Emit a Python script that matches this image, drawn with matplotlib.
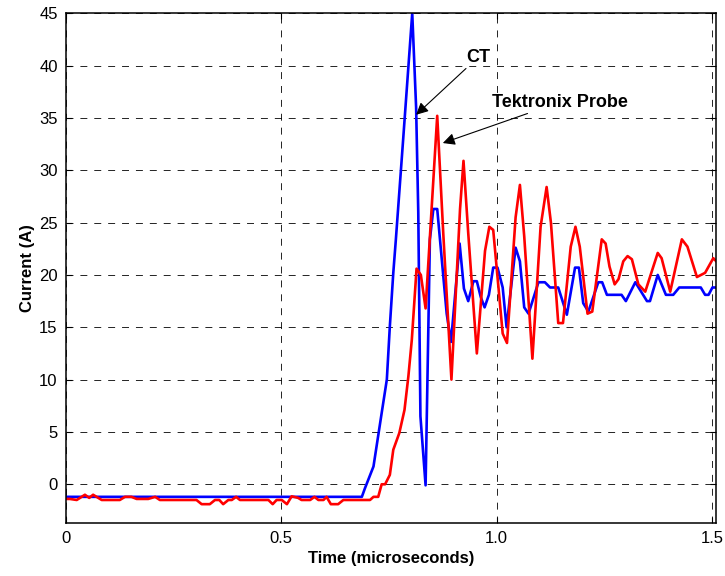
import matplotlib
matplotlib.use("Agg")
import matplotlib.pyplot as plt

plt.rcParams["font.family"] = ["Liberation Sans", "DejaVu Sans"]
plt.rcParams["lines.scale_dashes"] = False

# CT (blue) trace, time in microseconds, current in A
ct_t = [0.0, 0.687, 0.694, 0.714, 0.733, 0.745, 0.752, 0.760, 0.766, 0.783,
        0.804, 0.813, 0.818, 0.823, 0.835, 0.845, 0.853, 0.862, 0.884, 0.894,
        0.914, 0.924, 0.934, 0.946, 0.954, 0.963, 0.972, 0.982, 0.992, 1.002,
        1.014, 1.023, 1.044, 1.054, 1.064, 1.074, 1.097, 1.112, 1.124, 1.143,
        1.163, 1.182, 1.191, 1.201, 1.213, 1.236, 1.245, 1.256, 1.290, 1.300,
        1.322, 1.349, 1.356, 1.374, 1.393, 1.410, 1.424, 1.474, 1.484, 1.492,
        1.501, 1.51]
ct_i = [-1.2, -1.2, -0.4, 1.7, 6.8, 10.0, 15.1, 20.2, 23.4, 33.0,
        45.0, 36.0, 26.0, 6.5, -0.1, 23.4, 26.3, 26.3, 16.3, 13.6,
        23.0, 18.7, 17.5, 19.4, 19.4, 17.9, 16.9, 18.1, 20.7, 20.7,
        18.8, 15.0, 22.6, 21.3, 16.9, 16.3, 19.3, 19.3, 18.8, 18.8,
        16.2, 20.7, 20.7, 17.3, 16.5, 19.3, 19.3, 18.1, 18.1, 17.5,
        19.3, 17.5, 17.5, 20.0, 18.1, 18.1, 18.8, 18.8, 18.1, 18.1,
        18.8, 18.8]

# Tektronix probe (red) trace
tek_t = [0.0, 0.009, 0.025, 0.044, 0.054, 0.063, 0.083, 0.125, 0.137, 0.152,
         0.164, 0.191, 0.207, 0.218, 0.303, 0.315, 0.334, 0.346, 0.356, 0.365,
         0.377, 0.385, 0.395, 0.404, 0.470, 0.480, 0.489, 0.501, 0.513, 0.524,
         0.539, 0.547, 0.567, 0.577, 0.586, 0.598, 0.605, 0.615, 0.632, 0.644,
         0.706, 0.714, 0.725, 0.733, 0.741, 0.752, 0.760, 0.774, 0.786, 0.795,
         0.803, 0.814, 0.824, 0.835, 0.862, 0.876, 0.895, 0.915, 0.923, 0.934,
         0.954, 0.973, 0.983, 0.992, 1.014, 1.024, 1.044, 1.054, 1.064, 1.083,
         1.102, 1.116, 1.126, 1.143, 1.154, 1.172, 1.183, 1.193, 1.211, 1.222,
         1.244, 1.253, 1.262, 1.274, 1.283, 1.294, 1.304, 1.314, 1.329, 1.345,
         1.374, 1.383, 1.403, 1.430, 1.443, 1.465, 1.484, 1.503, 1.51]
tek_i = [-1.4, -1.4, -1.5, -1.0, -1.3, -1.0, -1.5, -1.5, -1.2, -1.2,
         -1.4, -1.4, -1.2, -1.5, -1.5, -1.9, -1.9, -1.5, -1.5, -1.9,
         -1.5, -1.5, -1.2, -1.5, -1.5, -1.9, -1.5, -1.5, -1.9, -1.15,
         -1.3, -1.5, -1.5, -1.2, -1.5, -1.5, -1.2, -1.9, -1.9, -1.5,
         -1.5, -1.2, -1.2, 0.0, 0.0, 0.9, 3.3, 4.9, 7.1, 10.3,
         13.8, 20.6, 20.0, 16.8, 35.2, 24.0, 10.0, 26.3, 30.9, 24.0,
         12.5, 22.3, 24.6, 24.3, 14.4, 13.5, 25.5, 28.6, 23.7, 12.0,
         24.6, 28.4, 25.0, 15.4, 15.4, 22.7, 24.6, 22.7, 16.3, 16.5,
         23.4, 23.0, 20.8, 19.1, 19.6, 21.3, 21.8, 21.5, 19.1, 18.4,
         22.1, 21.6, 18.4, 23.4, 22.7, 19.8, 20.2, 21.6, 21.3]

x_ticks = [0, 0.5, 1.0, 1.5]
x_labels = ["0", "0.5", "1.0", "1.5"]
y_ticks = [0, 5, 10, 15, 20, 25, 30, 35, 40, 45]

fig = plt.figure(figsize=(7.25, 5.76), dpi=100)
ax = fig.add_axes([0.091, 0.092, 0.897, 0.885])

ax.plot(ct_t, ct_i, color="#0000ff", lw=1.9)
ax.plot(tek_t, tek_i, color="#ff0000", lw=1.9)

ax.set_xlim(0, 1.51)
ax.set_ylim(-3.7, 45)
ax.set_xticks(x_ticks)
ax.set_xticklabels(x_labels)
ax.set_yticks(y_ticks)
ax.tick_params(direction="in", top=True, right=True, labelsize=12, length=4, pad=6)
ax.grid(True, color="black", linestyle=(0, (5, 5)), linewidth=0.6)
for s in ax.spines.values():
    s.set_linewidth(1.1)

ax.set_xlabel("Time (microseconds)", fontsize=12, fontweight="bold", labelpad=3)
ax.set_ylabel("Current (A)", fontsize=12, fontweight="bold", labelpad=3)

arrow = dict(arrowstyle="-|>", color="black", lw=0.8, mutation_scale=18,
             shrinkA=0, shrinkB=0)
ax.annotate("CT", xy=(0.813, 35.3), xytext=(0.957, 40.8), fontsize=13,
            fontweight="bold", ha="center", va="center", arrowprops=arrow)
ax.annotate("Tektronix Probe", xy=(0.875, 32.6), xytext=(0.989, 36.5),
            fontsize=13, fontweight="bold", ha="left", va="center",
            arrowprops=arrow)

fig.savefig("out.png", dpi=100)
